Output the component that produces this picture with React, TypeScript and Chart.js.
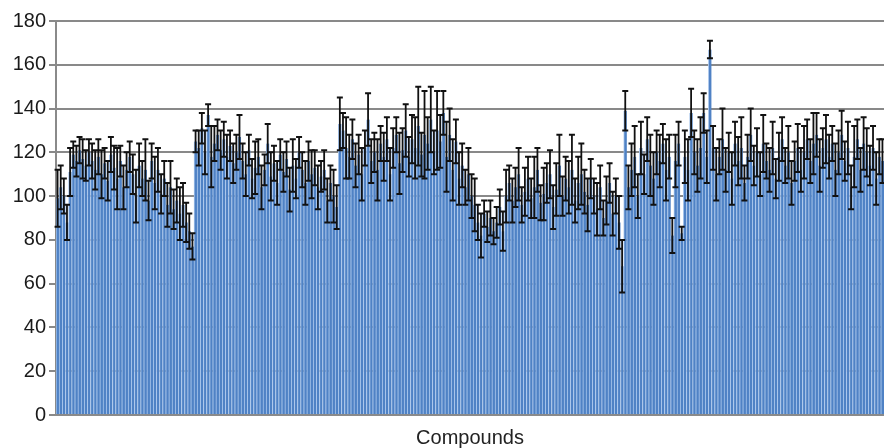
import React, { useEffect, useRef } from "react";
import { Chart, registerables } from "chart.js";

Chart.register(...registerables);

const yTicks = [0, 20, 40, 60, 80, 100, 120, 140, 160, 180];
const xTitle = "Compounds";

const means = [
  99, 104, 100, 88, 111, 119, 116, 121, 117, 114, 120, 116,
  112, 118, 110, 115, 107, 119, 113, 108, 116, 104, 112, 118,
  110, 100, 114, 108, 112, 98, 116, 106, 112, 101, 108, 96,
  104, 94, 98, 92, 96, 88, 84, 77,
  125, 122, 131, 120, 137, 118, 124, 128, 121, 126, 118, 123, 115, 120, 127,
  116, 110, 121, 108, 113, 118, 104, 112, 124, 109, 115, 106, 119, 111, 117, 103, 114, 108, 120, 112, 106, 116, 110, 113, 104, 109, 112, 98, 106,
  100, 95, 133, 130, 122, 118, 126,
  114, 119, 110, 122, 135, 116, 120, 112, 124, 118, 126, 110, 122, 128, 115, 121, 130, 118, 126, 122, 132, 119, 128, 124, 135, 120, 130, 125,
  138, 118, 128, 112, 125, 108, 114, 104, 110, 100,
  96, 88, 82, 92, 86, 90, 84, 88, 95, 84,
  100, 106, 98, 104, 110, 96, 102, 108, 99, 104, 112, 97, 101, 106, 110, 95, 103, 114, 100, 108, 104, 112, 98, 106, 110,
  102, 96, 108, 100, 94, 104, 90, 98, 106, 92, 100, 88, 68,
  139, 104, 112, 118, 100, 122, 110, 126, 114, 108, 120, 116, 124, 112, 118, 82, 116, 124, 83, 118, 112, 138, 120, 114, 122, 138, 118,
  167,
  122, 110, 118, 126, 112, 120, 108, 124, 116, 122, 106, 118, 128, 114, 120, 110, 124, 116, 112, 122, 108, 118, 126, 114, 120, 106, 116, 122, 112,
  120, 126, 116, 124, 128, 114, 122, 126, 118, 124, 112, 120, 128, 116, 122, 104, 118, 126, 112, 124, 120, 114, 122, 108, 118, 116,
];

const errors = [
  13, 10, 8, 8, 11, 6, 7, 6, 9, 7, 6, 8,
  9, 8, 11, 7, 9, 8, 10, 14, 7, 10, 8, 7,
  9, 12, 10, 8, 14, 9, 8, 12, 10, 9, 8, 10,
  12, 9, 10, 12, 10, 9, 8, 6,
  5, 8, 7, 10, 5, 14, 8, 7, 9, 8, 10, 7, 9, 8, 10,
  8, 10, 7, 9, 12, 8, 10, 7, 9, 11, 8, 10, 7, 9, 8, 10, 12, 9, 7, 8, 10, 9, 11, 8, 10, 7, 9, 10, 8,
  12, 10, 12, 8, 14, 10, 9,
  10, 9, 12, 8, 12, 10, 9, 14, 8, 11, 10, 12, 9, 8, 14, 10, 12, 9, 11, 14, 18, 10, 20, 12, 15, 10, 18, 12,
  10, 16, 12, 14, 10, 12, 10, 8, 12, 10,
  12, 8, 10, 6, 7, 8, 6, 7, 8, 9,
  12, 8, 10, 9, 12, 8, 11, 10, 9, 14, 10, 8, 12, 9, 11, 10, 12, 14, 9, 10, 12, 16, 10, 12, 14,
  10, 12, 9, 8, 12, 10, 8, 11, 9, 10, 8, 12, 12,
  9, 10, 12, 14, 10, 12, 9, 10, 14, 12, 10, 12, 9, 14, 10, 8, 12, 10, 3, 12, 14, 11, 10, 12, 14, 9, 12,
  4,
  10, 12, 8, 14, 10, 9, 12, 10, 11, 14, 8, 10, 12, 9, 11, 10, 13, 8, 10, 12, 9, 11, 10, 8, 12, 10, 9, 11, 10,
  12, 9, 10, 14, 10, 12, 9, 11, 10, 8, 12, 10, 11, 9, 12, 10, 14, 9, 10, 12, 11, 9, 10, 12, 8, 10,
];

const categories = means.map((_, i) => "Compound " + (i + 1));

const errorBarPlugin = {
  id: "errorBars",
  afterDatasetsDraw(chart: any) {
    const meta = chart.getDatasetMeta(0);
    const yScale = chart.scales.y;
    const ctx = chart.ctx;
    ctx.save();
    ctx.strokeStyle = "#111111";
    meta.data.forEach((bar: any, i: number) => {
      const e = errors[i];
      if (e === undefined) return;
      const v = means[i];
      const x = bar.x;
      const yt = yScale.getPixelForValue(v + e);
      const yb = yScale.getPixelForValue(v - e);
      ctx.lineWidth = 1.8;
      ctx.beginPath();
      ctx.moveTo(x, yt);
      ctx.lineTo(x, yb);
      ctx.stroke();
      ctx.lineWidth = 2;
      ctx.beginPath();
      ctx.moveTo(x - 3, yt);
      ctx.lineTo(x + 3, yt);
      ctx.moveTo(x - 3, yb);
      ctx.lineTo(x + 3, yb);
      ctx.stroke();
    });
    ctx.restore();
  },
};

export default function App() {
  const canvasRef = useRef<HTMLCanvasElement | null>(null);

  useEffect(() => {
    document.body.style.margin = "0";
    const canvas = canvasRef.current;
    if (!canvas) return;
    const chart = new Chart(canvas, {
      type: "bar",
      data: {
        labels: categories,
        datasets: [
          {
            data: means,
            backgroundColor: "#4f82c5",
            borderColor: "#a9c6ec",
            borderWidth: { left: 1, right: 0, top: 0, bottom: 0 },
            borderSkipped: false,
            barPercentage: 1,
            categoryPercentage: 1,
          },
        ],
      },
      options: {
        animation: false,
        responsive: true,
        maintainAspectRatio: false,
        layout: { padding: { top: 21, right: 0, left: 0, bottom: 0 } },
        plugins: {
          legend: { display: false },
          tooltip: { enabled: false },
        },
        scales: {
          x: {
            grid: { display: false },
            border: { display: true, color: "#8a8a8a", width: 2 },
            ticks: { display: false },
            title: {
              display: true,
              text: xTitle,
              color: "#222222",
              font: { family: "'Liberation Sans', Arial, sans-serif", size: 20, lineHeight: 1 },
              padding: { top: 0, bottom: 0 },
            },
            afterFit: (scale: any) => {
              scale.height = 33;
            },
          },
          y: {
            min: 0,
            max: 180,
            z: 1,
            afterBuildTicks: (scale: any) => {
              scale.ticks = yTicks.map((v) => ({ value: v }));
            },
            ticks: {
              color: "#1a1a1a",
              padding: 3,
              font: { family: "'Liberation Sans', Arial, sans-serif", size: 20 },
            },
            grid: {
              color: "rgba(40,40,40,0.55)",
              lineWidth: 2,
              tickLength: 7,
            },
            border: { display: true, color: "#8a8a8a", width: 2 },
            afterFit: (scale: any) => {
              scale.width = 56;
            },
          },
        },
      },
      plugins: [errorBarPlugin],
    });
    return () => chart.destroy();
  }, []);

  return (
    <div style={{ position: "absolute", left: 0, top: 0, width: 884, height: 448, background: "#ffffff" }}>
      <canvas ref={canvasRef} />
    </div>
  );
}
